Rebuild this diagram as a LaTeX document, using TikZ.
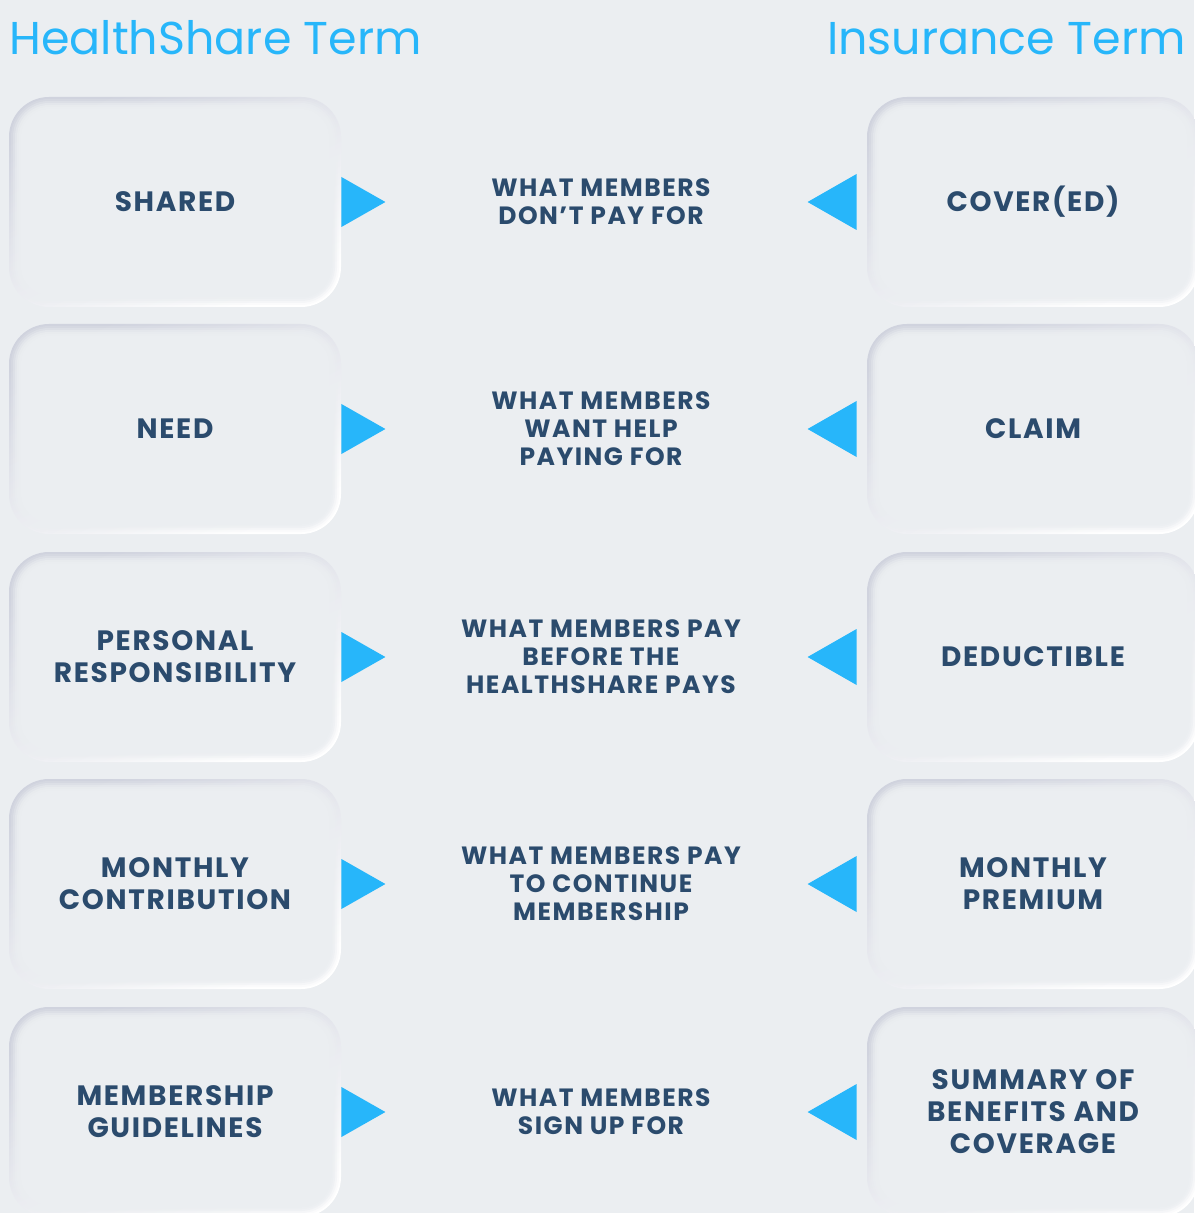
\documentclass[tikz,border=0pt]{standalone}
\usepackage{fontspec}
\setmainfont{Poppins}
\usetikzlibrary{positioning,calc}
\definecolor{bg}{HTML}{EBEEF1}
\definecolor{sky}{HTML}{27B6FA}
\definecolor{ink}{HTML}{2B4B6D}
\definecolor{rim}{HTML}{D0D3DE}
\tikzset{
  term/.style={minimum width=166pt,minimum height=105pt,rounded corners=20pt,
    top color=rim,bottom color=white,shading angle=25,
    path picture={
      \foreach \d/\o in {1/.2,2/.35,3/.5,4/.65,5/.8,6/1}
        \fill[bg,opacity=\o,rounded corners=20pt-\d pt]
          ([shift={(\d pt,\d pt)}]path picture bounding box.south west) rectangle
          ([shift={(-\d pt,-\d pt)}]path picture bounding box.north east);},
    font=\bfseries\fontsize{14}{16}\selectfont\addfontfeatures{LetterSpace=6},
    text=ink,align=center},
  what/.style={font=\bfseries\fontsize{12.5}{14}\selectfont\addfontfeatures{LetterSpace=6},
    text=ink,align=center},
  head/.style={font=\fontsize{23}{30}\selectfont,text=sky,inner sep=0pt}
}
\begin{document}
\begin{tikzpicture}[x=0.5pt,y=-0.5pt]
\fill[bg](0,0)rectangle(1194,1213);
\useasboundingbox(0,0)rectangle(1194,1213);
\node[head,anchor=base west](lhead) at (9,55){HealthShare Term};
\node[head,anchor=base east](rhead) at (1186,55){Insurance Term};
\foreach \y/\l/\m/\r [count=\i] in {
  202/SHARED/{WHAT MEMBERS\\DON’T PAY FOR}/{COVER(ED)},
  429/NEED/{WHAT MEMBERS\\WANT HELP\\PAYING FOR}/CLAIM,
  657/{PERSONAL\\RESPONSIBILITY}/{WHAT MEMBERS PAY\\BEFORE THE\\HEALTHSHARE PAYS}/DEDUCTIBLE,
  884/{MONTHLY\\CONTRIBUTION}/{WHAT MEMBERS PAY\\TO CONTINUE\\MEMBERSHIP}/{MONTHLY\\PREMIUM},
  1112/{MEMBERSHIP\\GUIDELINES}/{WHAT MEMBERS\\SIGN UP FOR}/{SUMMARY OF\\BENEFITS AND\\COVERAGE}}{
  \node[term](L\i) at (175,\y){\l};
  \node[term](R\i) at (1033,\y){\r};
  \node[what](M\i) at (601,\y){\m};
  % pointers
  \fill[sky](L\i.east)++(0,-25)--++(44,25)--++(-44,25)--cycle;
  \fill[sky]([xshift=-5pt]R\i.west)++(0,-28)--++(-49,28)--++(49,28)--cycle;
}
\end{tikzpicture}
\end{document}
